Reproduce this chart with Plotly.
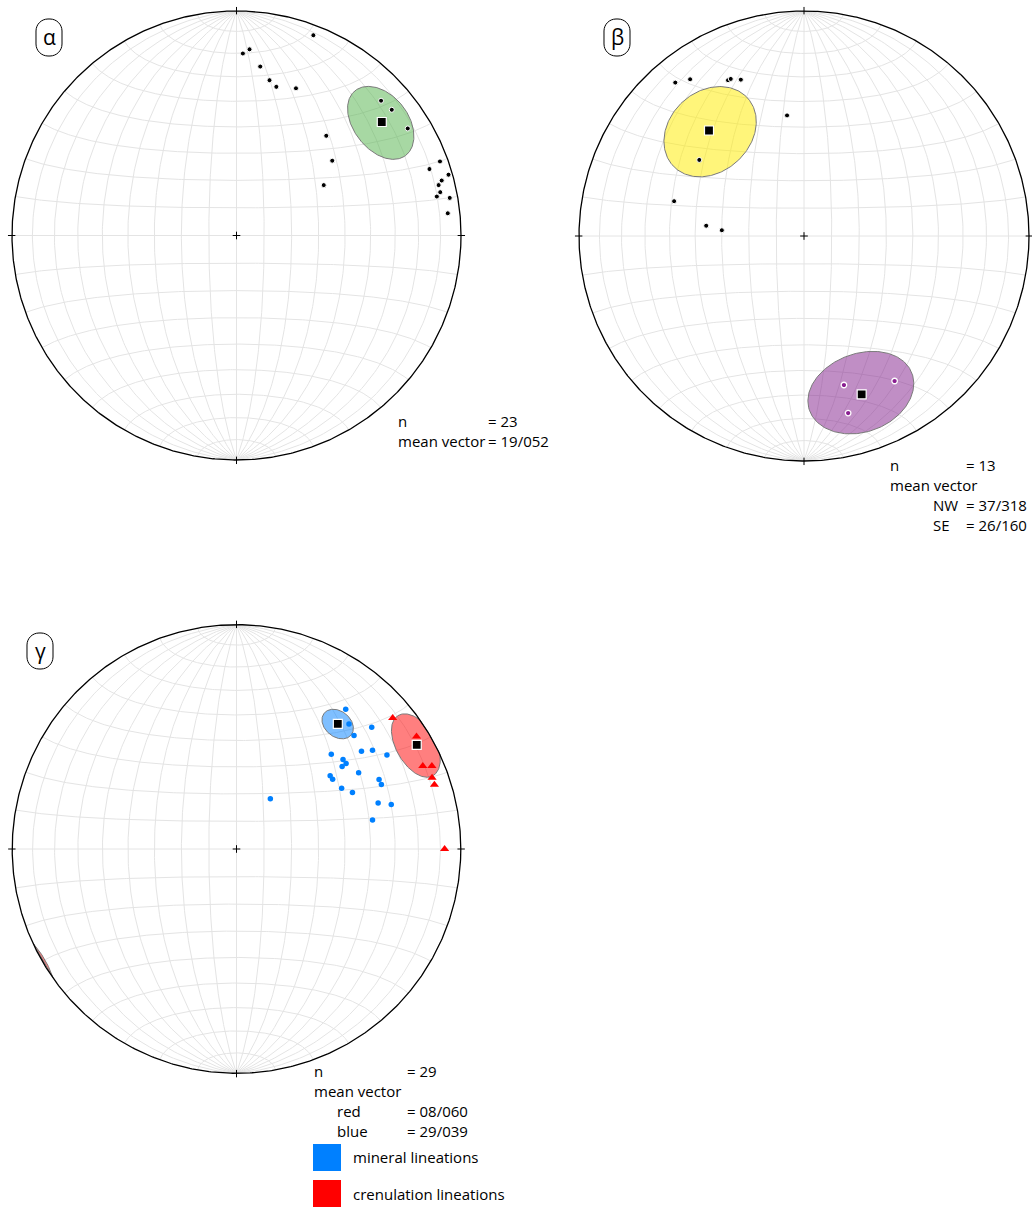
import numpy as np
import plotly.graph_objects as go

W, H = 1032, 1207

# ---------------- data: lineations as trend / plunge (degrees) ----------------
# Net α
A_TREND = [21, 2, 4, 8, 12, 15, 22, 47, 51, 58, 42, 52, 60, 70, 71, 74, 75, 76, 78, 79, 80, 84]
A_PLUNGE = [5, 20, 18, 25, 30, 32, 30, 13, 12, 11, 40, 45, 53, 4, 10, 2, 6, 8, 8, 10, 4, 6]
A_N = 23
A_MEAN = {"plunge": 19, "trend": 52}
A_CONE = 12.1  # confidence cone half-angle

# Net β
B_NW_TREND = [320, 324, 334, 335, 338, 352, 306, 285, 276, 274]
B_NW_PLUNGE = [12, 15, 24, 24, 26, 45, 42, 40, 54, 60]
B_SE_TREND = [165, 148, 166]
B_SE_PLUNGE = [32, 25, 20]
B_N = 13
B_MEAN_NW = {"plunge": 37, "trend": 318}
B_MEAN_SE = {"plunge": 26, "trend": 160}
B_CONE_NW = 16.3
B_CONE_SE = 16.7

# Net γ
G_BLUE_TREND = [38, 42, 48, 46, 45, 52, 54, 58, 50, 52, 52, 58, 52, 54, 64, 66, 60, 64, 72, 74, 78, 34]
G_BLUE_PLUNGE = [22, 26, 20, 28, 40, 30, 26, 22, 38, 38, 40, 36, 46, 46, 30, 30, 45, 42, 34, 29, 38, 68]
G_RED_TREND = [50, 58, 66, 67, 70, 72, 90]
G_RED_PLUNGE = [10, 6, 10, 6, 8, 8, 8]
G_N = 29
G_MEAN_RED = {"plunge": 8, "trend": 60}
G_MEAN_BLUE = {"plunge": 29, "trend": 39}
G_CONE_RED = 9.5
G_CONE_BLUE = 5.4

# ---------------- net placement on the page (pixels) ----------------
NETS = {
    "α": dict(cx=236.5, cy=235.5, R=224.5, ax="x", ay="y"),
    "β": dict(cx=804.0, cy=236.0, R=225.0, ax="x2", ay="y2"),
    "γ": dict(cx=236.5, cy=849.0, R=224.3, ax="x3", ay="y3"),
}

GRID = "#e4e4e4"
FONT = "Open Sans"


def lower_proj(trend, plunge):
    """Equal-area (Schmidt) lower-hemisphere projection, unit primitive."""
    t = np.radians(np.asarray(trend, float))
    p = np.radians(np.asarray(plunge, float))
    rho = np.sqrt(2) * np.sin((np.pi / 2 - p) / 2)
    return rho * np.sin(t), rho * np.cos(t)


def grid_lines(step=10, n=181):
    xs, ys = [], []
    phi = np.radians(np.linspace(-90, 90, n))
    for lam_d in range(-90 + step, 90, step):
        lam = np.radians(lam_d)
        d = np.sqrt(1 + np.cos(phi) * np.cos(lam))
        xs += list(np.cos(phi) * np.sin(lam) / d) + [None]
        ys += list(np.sin(phi) / d) + [None]
    lam = np.radians(np.linspace(-90, 90, n))
    for phi_d in range(-90 + step, 90, step):
        ph = np.radians(phi_d)
        d = np.sqrt(1 + np.cos(ph) * np.cos(lam))
        xs += list(np.cos(ph) * np.sin(lam) / d) + [None]
        ys += list(np.sin(ph) / d) + [None]
    return xs, ys


def cone_outline(trend, plunge, delta, n=241):
    """Small circle of half-angle delta about a mean direction.
    Returns the lower-hemisphere part and, if the cone crosses the
    horizontal, the antipodal piece that re-enters on the far side."""
    t, p, d = np.radians([trend, plunge, delta])
    v = np.array([np.cos(p) * np.sin(t), np.cos(p) * np.cos(t), np.sin(p)])
    u1 = np.array([np.cos(t), -np.sin(t), 0.0])
    u2 = np.array([-np.sin(p) * np.sin(t), -np.sin(p) * np.cos(t), np.cos(p)])
    s = np.linspace(0, 2 * np.pi, n)
    w = np.cos(d) * v[:, None] + np.sin(d) * (np.cos(s) * u1[:, None] + np.sin(s) * u2[:, None])
    tr = np.degrees(np.arctan2(w[0], w[1]))
    pl = np.degrees(np.arcsin(np.clip(w[2], -1, 1)))
    main = lower_proj(tr, np.maximum(pl, 0))
    up = pl < 0
    anti = None
    if up.any():
        k = int(np.argmin(up))
        order = np.roll(np.arange(n), -k)
        idx = order[up[order]]
        ax_, ay_ = lower_proj(tr[idx] + 180, -pl[idx])
        anti = (np.append(ax_, ax_[0]), np.append(ay_, ay_[0]))
    return main, anti


def px(x, y):
    return x / W, 1 - y / H


fig = go.Figure()


def add(net, **kw):
    g = NETS[net]
    kw.setdefault("hoverinfo", "skip")
    kw.setdefault("showlegend", False)
    fig.add_trace(go.Scatter(xaxis=g["ax"], yaxis=g["ay"], **kw))


def draw_frame(net):
    gx, gy = grid_lines()
    add(net, x=gx, y=gy, mode="lines", line=dict(color=GRID, width=1))


def draw_primitive(net):
    a = np.linspace(0, 2 * np.pi, 721)
    add(net, x=np.cos(a), y=np.sin(a), mode="lines", line=dict(color="black", width=1.3))
    r0, r1, c = 0.985, 1.018, 0.017
    tx = [0, 0, None, 0, 0, None, r0, r1, None, -r0, -r1, None, -c, c, None, 0, 0]
    ty = [r0, r1, None, -r0, -r1, None, 0, 0, None, 0, 0, None, 0, 0, None, -c, c]
    add(net, x=tx, y=ty, mode="lines", line=dict(color="black", width=1))


def draw_cone(net, mean, delta, fill):
    main, anti = cone_outline(mean["trend"], mean["plunge"], delta)
    for part in (main, anti):
        if part is None:
            continue
        add(net, x=part[0], y=part[1], mode="lines", fill="toself",
            fillcolor=fill, line=dict(color="#7a7a7a", width=1))


def draw_points(net, trend, plunge, color, size, symbol="circle", edge="white", ew=1.0):
    x, y = lower_proj(trend, plunge)
    add(net, x=x, y=y, mode="markers",
        marker=dict(color=color, size=size, symbol=symbol, line=dict(color=edge, width=ew)))


def draw_mean(net, mean):
    draw_points(net, [mean["trend"]], [mean["plunge"]], "black", 9, "square", "white", 1.2)


def vec(m):
    return f"= {m['plunge']:02d}/{m['trend']:03d}"


# ---- α ----
draw_frame("α")
draw_cone("α", A_MEAN, A_CONE, "rgba(80,178,72,0.5)")
draw_primitive("α")
draw_points("α", A_TREND, A_PLUNGE, "black", 5)
draw_mean("α", A_MEAN)

# ---- β ----
draw_frame("β")
draw_cone("β", B_MEAN_NW, B_CONE_NW, "rgba(255,236,0,0.52)")
draw_cone("β", B_MEAN_SE, B_CONE_SE, "rgba(130,30,140,0.5)")
draw_primitive("β")
draw_points("β", B_NW_TREND, B_NW_PLUNGE, "black", 5)
draw_points("β", B_SE_TREND, B_SE_PLUNGE, "#8a1f91", 5.5, ew=1.3)
draw_mean("β", B_MEAN_NW)
draw_mean("β", B_MEAN_SE)

# ---- γ ----
draw_frame("γ")
draw_cone("γ", G_MEAN_BLUE, G_CONE_BLUE, "rgba(0,128,255,0.5)")
draw_cone("γ", G_MEAN_RED, G_CONE_RED, "rgba(255,0,0,0.5)")
draw_primitive("γ")
draw_points("γ", G_BLUE_TREND, G_BLUE_PLUNGE, "rgb(0,128,255)", 5.5, ew=0)
draw_points("γ", G_RED_TREND, G_RED_PLUNGE, "rgb(255,0,0)", 8, "triangle-up", ew=0)
draw_mean("γ", G_MEAN_BLUE)
draw_mean("γ", G_MEAN_RED)

# ---- axes: one square frame per net ----
layout_axes = {}
PAD = 1.06
for i, (name, g) in enumerate(NETS.items(), start=1):
    cx, cy, R = g["cx"], g["cy"], g["R"]
    x0, x1 = max(0.0, cx - PAD * R), min(W, cx + PAD * R)
    y0, y1 = max(0.0, cy - PAD * R), min(H, cy + PAD * R)
    sfx = "" if i == 1 else str(i)
    layout_axes[f"xaxis{sfx}"] = dict(domain=[x0 / W, x1 / W], range=[(x0 - cx) / R, (x1 - cx) / R],
                                      visible=False, fixedrange=True, anchor=f"y{sfx}")
    layout_axes[f"yaxis{sfx}"] = dict(domain=[1 - y1 / H, 1 - y0 / H], range=[(cy - y1) / R, (cy - y0) / R],
                                      visible=False, fixedrange=True, anchor=f"x{sfx}")

# ---- text ----
annotations = []


def text(s, x, y, size=15, anchor="left"):
    X, Y = px(x, y)
    annotations.append(dict(text=s, x=X, y=Y, xref="paper", yref="paper", xanchor=anchor,
                            yanchor="middle", showarrow=False,
                            font=dict(family=FONT, size=size, color="black")))


text("n", 396, 421)
text(f"= {A_N}", 486, 421)
text("mean vector", 396, 441)
text(vec(A_MEAN), 486, 441)

text("n", 888, 465)
text(f"= {B_N}", 964, 465)
text("mean vector", 888, 485)
text("NW", 931, 505)
text(vec(B_MEAN_NW), 964, 505)
text("SE", 931, 525)
text(vec(B_MEAN_SE), 964, 525)

text("n", 312, 1071)
text(f"= {G_N}", 405, 1071)
text("mean vector", 312, 1091)
text("red", 335, 1111)
text(vec(G_MEAN_RED), 405, 1111)
text("blue", 335, 1131)
text(vec(G_MEAN_BLUE), 405, 1131)
text("mineral lineations", 351, 1157)
text("crenulation lineations", 351, 1194)

# ---- panel letters in rounded boxes, legend swatches ----
shapes = []


def rounded_box(x0, y0, x1, y1, r):
    k = 0.552 * r

    def P(x, y):
        X, Y = px(x, y)
        return f"{X:.5f},{Y:.5f}"

    path = (f"M {P(x0 + r, y0)} L {P(x1 - r, y0)} "
            f"C {P(x1 - r + k, y0)} {P(x1, y0 + r - k)} {P(x1, y0 + r)} "
            f"L {P(x1, y1 - r)} "
            f"C {P(x1, y1 - r + k)} {P(x1 - r + k, y1)} {P(x1 - r, y1)} "
            f"L {P(x0 + r, y1)} "
            f"C {P(x0 + r - k, y1)} {P(x0, y1 - r + k)} {P(x0, y1 - r)} "
            f"L {P(x0, y0 + r)} "
            f"C {P(x0, y0 + r - k)} {P(x0 + r - k, y0)} {P(x0 + r, y0)} Z")
    shapes.append(dict(type="path", path=path, xref="paper", yref="paper",
                       line=dict(color="black", width=1), fillcolor="rgba(0,0,0,0)"))


for letter, (bx0, by0, bx1, by1) in {"α": (36, 19, 62, 56), "β": (604, 19, 630, 56),
                                     "γ": (27, 633, 53, 669)}.items():
    rounded_box(bx0, by0, bx1, by1, 12)
    text(letter, (bx0 + bx1) / 2, (by0 + by1) / 2, size=21, anchor="center")

for (sx0, sy0, sx1, sy1), col in (((313, 1144, 341, 1171), "rgb(0,128,255)"),
                                  ((313, 1180, 341, 1207), "rgb(255,0,0)")):
    X0, Y1 = px(sx0, sy0)
    X1, Y0 = px(sx1, sy1)
    shapes.append(dict(type="rect", xref="paper", yref="paper", x0=X0, x1=X1, y0=Y0, y1=Y1,
                       line=dict(width=0), fillcolor=col))

fig.update_layout(
    width=W, height=H, autosize=False,
    margin=dict(l=0, r=0, t=0, b=0, pad=0),
    paper_bgcolor="white", plot_bgcolor="white",
    showlegend=False, annotations=annotations, shapes=shapes,
    **layout_axes,
)

fig.write_html("out.html")
